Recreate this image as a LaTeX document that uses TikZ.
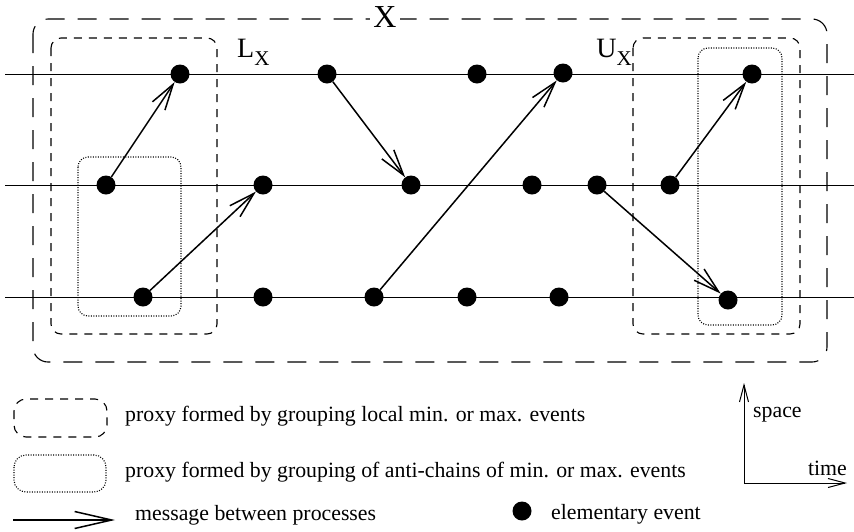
\documentclass[tikz,border=0pt]{standalone}
\usepackage{fontspec}
\setmainfont{Liberation Serif}
\usetikzlibrary{arrows.meta}
\begin{document}
\begin{tikzpicture}[x=1pt,y=-1pt,
  ev/.style={circle,fill=black,draw=none,minimum size=19pt,inner sep=0pt},
  msg/.style={line width=1.5pt,-{Straight Barb[length=26pt,width=15pt]}},
  proc/.style={line width=1pt},
  longdash/.style={line width=1.1pt,dash pattern=on 19pt off 13pt},
  shortdash/.style={line width=1.1pt,dash pattern=on 8pt off 7pt},
  dotbox/.style={line width=1.1pt,dash pattern=on 1pt off 1.5pt},
  axisarr/.style={line width=1pt,-{Straight Barb[length=17pt,width=9pt]}},
  lbl/.style={font=\fontsize{21.8}{24}\selectfont,inner sep=0pt,anchor=base west},
]
\useasboundingbox (0,0) rectangle (854,531);

% grouping boxes
\draw[longdash, rounded corners=15pt] (33,19) rectangle (827,362);
\draw[shortdash, rounded corners=10pt] (51,38) rectangle (217,334);
\draw[dotbox, rounded corners=10pt] (78,157) rectangle (181,316);
\draw[shortdash, rounded corners=10pt] (633,38) rectangle (800,334);
\draw[dotbox, rounded corners=10pt] (698,48) rectangle (782,325);

\node[fill=white,inner sep=3pt,font=\fontsize{32}{32}\selectfont] (xlab) at (385,17.5) {X};
\node[anchor=base west,inner sep=0pt,font=\fontsize{28}{28}\selectfont] (lx) at (237,57) {L\raisebox{-8pt}{\fontsize{21}{21}\selectfont X}};
\node[anchor=base east,inner sep=0pt,font=\fontsize{28}{28}\selectfont] (ux) at (632,57) {U\raisebox{-8pt}{\fontsize{21}{21}\selectfont X}};

% process lines
\foreach \y/\n in {74/a,185/b,297/c} {
  \coordinate (\n s) at (5,\y);
  \coordinate (\n e) at (854,\y);
  \draw[proc] (\n s) -- (\n e);
}

% events
\node[ev] (t1) at (180,74) {};
\node[ev] (t2) at (327,74) {};
\node[ev] (t3) at (477,74) {};
\node[ev] (t4) at (563,73) {};
\node[ev] (t5) at (752,74) {};
\node[ev] (m1) at (106,185) {};
\node[ev] (m2) at (263,185) {};
\node[ev] (m3) at (411,185) {};
\node[ev] (m4) at (532,185) {};
\node[ev] (m5) at (597,185) {};
\node[ev] (m6) at (670,185) {};
\node[ev] (b1) at (143,297) {};
\node[ev] (b2) at (263,297) {};
\node[ev] (b3) at (374,297) {};
\node[ev] (b4) at (467,297) {};
\node[ev] (b5) at (559,297) {};
\node[ev] (b6) at (728,300) {};

% messages
\draw[msg] (m1) -- (t1);
\draw[msg] (b1) -- (m2);
\draw[msg] (t2) -- (m3);
\draw[msg] (b3) -- (t4);
\draw[msg] (m6) -- (t5);
\draw[msg] (m5) -- (b6);

% legend
\draw[shortdash, rounded corners=12pt] (14,399) rectangle (107,437);
\draw[dotbox, rounded corners=12pt] (14,455) rectangle (106,492);
\coordinate (la) at (13,520);
\coordinate (lb) at (115,520);
\draw[line width=1.5pt,-{Straight Barb[length=37pt,width=17pt]}] (la) -- (lb);
\node[lbl] (l1) at (125,421) {proxy formed by grouping local min. or max. events};
\node[lbl] (l2) at (125,477) {proxy formed by grouping of anti-chains of min. or max. events};
\node[lbl] (l3) at (135,520) {message between processes};
\node[ev] (ld) at (522,511) {};
\node[lbl] (l4) at (551,519) {elementary event};

% axes
\coordinate (o) at (744,483);
\coordinate (sp) at (744,383);
\coordinate (tm) at (847,483);
\draw[axisarr] (o) -- (sp);
\draw[axisarr] (o) -- (tm);
\node[lbl] (spl) at (753,417) {space};
\node[lbl,anchor=base east] (tml) at (847,475) {time};
\end{tikzpicture}
\end{document}
